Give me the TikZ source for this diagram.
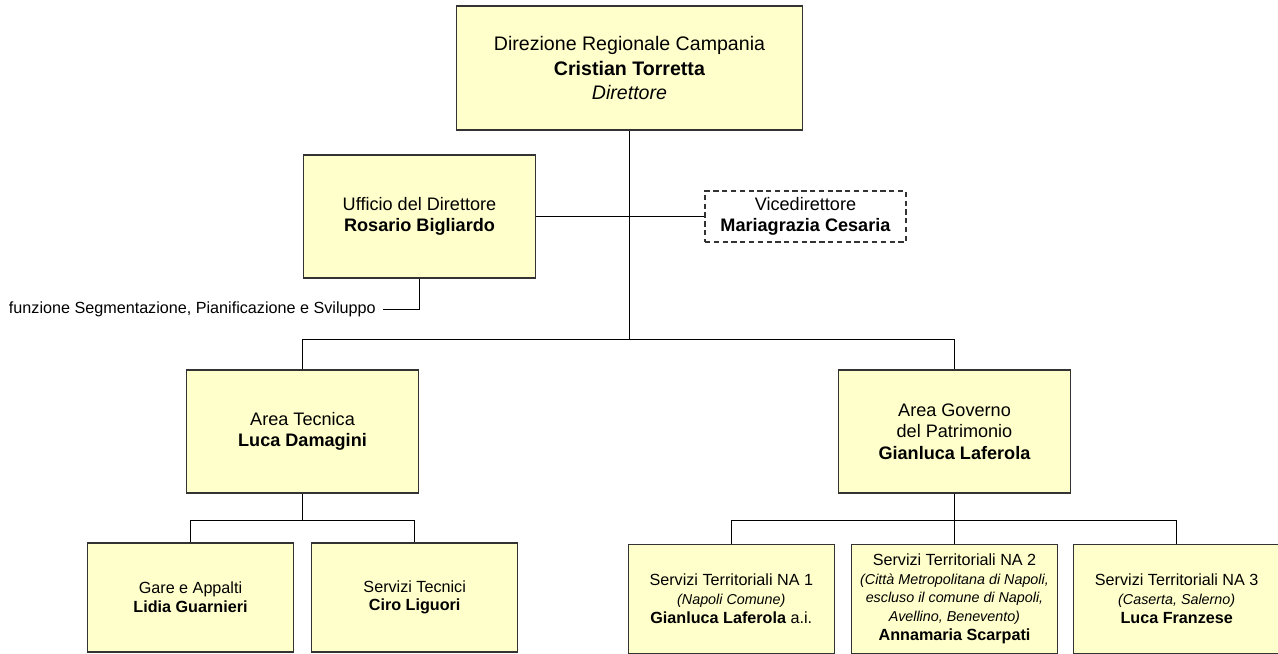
\documentclass[tikz,border=0pt]{standalone}
\usepackage{fontspec}
\setmainfont{Liberation Sans}
\setsansfont{Liberation Sans}
\usepackage{tikz}
\usetikzlibrary{positioning}

\definecolor{boxfill}{HTML}{FFFFCC}
\newcommand{\fsmall}{\fontsize{9.2}{10.6}\selectfont}
\newcommand{\fnote}{\fontsize{8.15}{10.6}\selectfont\itshape}
\newcommand{\fmid}{\fontsize{10.3}{12.3}\selectfont}
\newcommand{\ftop}{\fontsize{11.15}{13.8}\selectfont}

\begin{document}
\begin{tikzpicture}[x=0.02cm,y=-0.02cm,
                    every node/.style={font=\sffamily},
                    box/.style={rectangle, draw=black!80, line width=0.7pt, fill=boxfill, align=center, inner sep=2pt},
                    top node/.style={box, minimum width=6.92cm, minimum height=2.48cm, font=\sffamily\ftop},
                    mid node/.style={box, minimum width=4.64cm, minimum height=2.46cm, font=\sffamily\fmid},
                    sub node/.style={box, minimum width=4.12cm, minimum height=2.18cm, font=\sffamily\fsmall},
                    vice node/.style={rectangle, draw=black!80, line width=0.7pt, dash pattern=on 3pt off 2pt,
                                      align=center, minimum width=4.02cm, minimum height=1.02cm, font=\sffamily\fmid},
                    link/.style={draw=black, line width=0.55pt}]

  \useasboundingbox (0,0) rectangle (1278,653);

  %Vertice%
  \node[top node] (dir) at (629.5,68) {Direzione Regionale Campania\\\textbf{Cristian Torretta}\\\textit{Direttore}};

  %Staff%
  \node[mid node] (uff) at (419.5,216.5) {Ufficio del Direttore\\\textbf{Rosario Bigliardo}};
  \node[vice node] (vice) at (805.5,216.5) {Vicedirettore\\\textbf{Mariagrazia Cesaria}};
  \node[anchor=east, inner sep=4pt, font=\sffamily\fsmall] (funz) at (383,309.5) {funzione Segmentazione, Pianificazione e Sviluppo};

  %Aree%
  \node[mid node] (tec) at (302.5,431.5) {Area Tecnica\\\textbf{Luca Damagini}};
  \node[mid node] (gov) at (954.5,431.5) {Area Governo\\del Patrimonio\\\textbf{Gianluca Laferola}};

  %Uffici%
  \node[sub node] (gare) at (190.5,597.5) {Gare e Appalti\\\textbf{Lidia Guarnieri}};
  \node[sub node] (sertec) [right=0.34cm of gare] {Servizi Tecnici\\\textbf{Ciro Liguori}};
  \node[sub node] (na2) [below=1cm of gov] {Servizi Territoriali NA 2\\{\fnote (Città Metropolitana di Napoli,}\\{\fnote escluso il comune di Napoli,}\\{\fnote Avellino, Benevento)}\\\textbf{Annamaria Scarpati}};
  \node[sub node] (na1) [left=0.32cm of na2] {Servizi Territoriali NA 1\\{\fnote (Napoli Comune)}\\\textbf{Gianluca Laferola} a.i.};
  \node[sub node] (na3) [right=0.3cm of na2] {Servizi Territoriali NA 3\\{\fnote (Caserta, Salerno)}\\\textbf{Luca Franzese}};

  %Linee%
  \coordinate (bus) at (629.5,339.5);
  \coordinate (tbus) at ([yshift=-0.53cm]tec.south);
  \coordinate (gbus) at ([yshift=-0.53cm]gov.south);

  \draw[link] (dir) -- (bus);
  \draw[link] (uff) -- (vice);
  \draw[link] (uff) |- (funz);
  \draw[link] (tec) |- (bus) -| (gov);
  \draw[link] (tec) -- (tbus);
  \draw[link] (gare) |- (tbus) -| (sertec);
  \draw[link] (gov) -- (na2);
  \draw[link] (na1) |- (gbus) -| (na3);
\end{tikzpicture}
\end{document}
